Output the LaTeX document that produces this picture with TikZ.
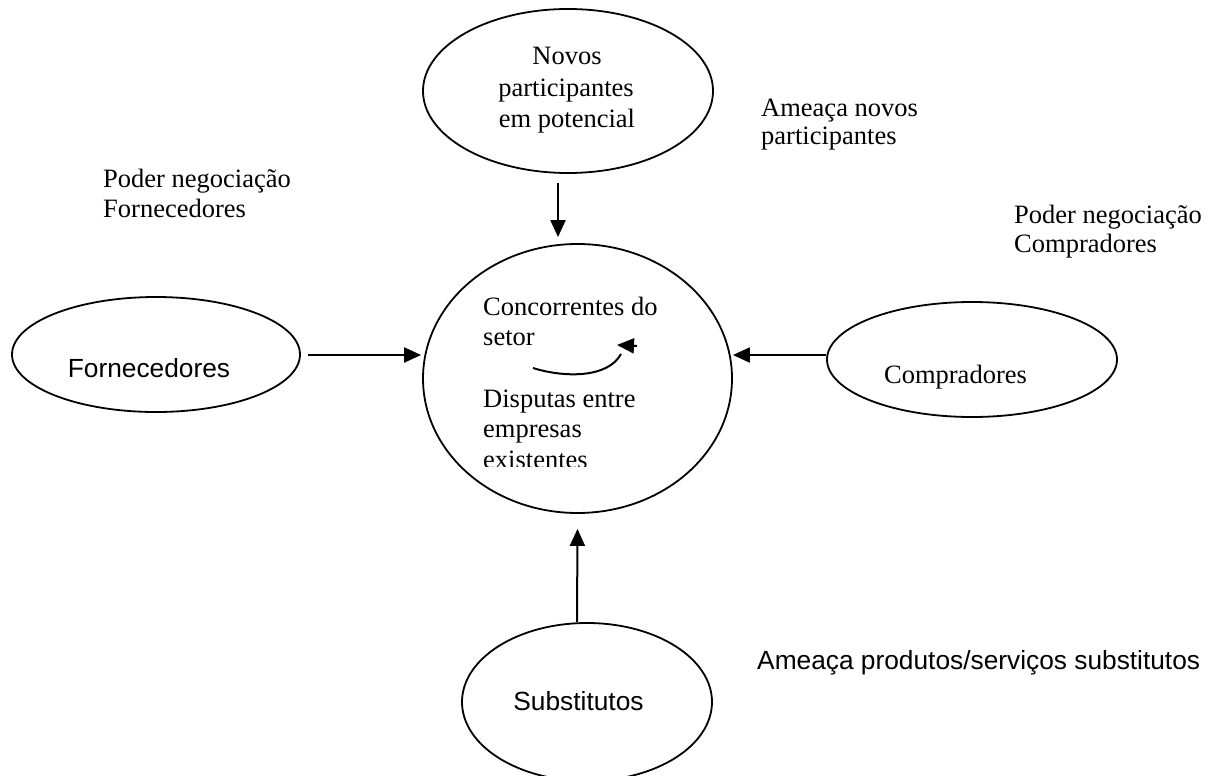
\documentclass[tikz,border=0pt]{standalone}
\usepackage{fontspec}
\setmainfont{Liberation Serif}
\newfontfamily\arialfont{Liberation Sans}
\usetikzlibrary{shapes.geometric,arrows.meta}
\begin{document}
\begin{tikzpicture}[x=1pt,y=-1pt,
  oval/.style={draw, ellipse, line width=1.8pt, inner sep=0pt},
  arr/.style={line width=2pt, -{Triangle[length=17pt,width=15pt]}},
  txt/.style={inner sep=0pt, font=\fontsize{26.5}{30}\selectfont},
  lbl/.style={txt, anchor=base west},
  ctr/.style={txt, anchor=base},
  sans/.style={font=\fontsize{26.3}{30}\arialfont}]
\clip (0,0) rectangle (1216,776);
\fill[white] (0,0) rectangle (1216,776);

% the five forces
\node[oval, minimum width=290pt, minimum height=164pt] (novos) at (568,91) {};
\node[oval, minimum width=309pt, minimum height=269pt] (conc) at (577.5,378.5) {};
\node[oval, minimum width=288pt, minimum height=115pt] (forn) at (156,354.5) {};
\node[oval, minimum width=290pt, minimum height=115pt] (comp) at (972,359.5) {};
\node[oval, minimum width=250pt, minimum height=158pt] (subst) at (587,702) {};

% texts inside the ellipses
\node[ctr] (n1) at (567,65) {Novos};
\node[ctr] (n2) at (566,96) {participantes};
\node[ctr] (n3) at (567,127) {em potencial};

\begin{scope}
  \clip (400,250) rectangle (760,466.7);
  \node[lbl] (c1) at (483,315) {Concorrentes do};
  \node[lbl] (c2) at (483,345.7) {setor};
  \node[lbl] (c3) at (483,407) {Disputas entre};
  \node[lbl] (c4) at (483,437.7) {empresas};
  \node[lbl] (c5) at (483,468.4) {existentes};
\end{scope}

\node[ctr, sans] (ft) at (149,377) {Fornecedores};
\node[ctr] (ct) at (955.5,383) {Compradores};
\node[ctr, sans] (st) at (578.5,710) {Substitutos};

% labels of the forces
\node[lbl] (a1) at (761,116) {Ameaça novos};
\node[lbl] (a2) at (761,144) {participantes};
\node[lbl] (p1) at (103,187) {Poder negociação};
\node[lbl] (p2) at (103,217) {Fornecedores};
\node[lbl] (q1) at (1014,223) {Poder negociação};
\node[lbl] (q2) at (1014,252) {Compradores};
\node[lbl, sans] (s1) at (757,669) {Ameaça produtos/serviços substitutos};

% arrows towards the industry rivalry
\draw[arr] ([xshift=-10pt,yshift=-9pt]novos.south) -- ([xshift=-19.5pt,yshift=6pt]conc.north);
\draw[arr] ([xshift=7pt,yshift=-0.5pt]forn.east) -- ([xshift=-1pt,yshift=23.5pt]conc.west);
\draw[arr] ([yshift=4.5pt]comp.west) -- ([yshift=23.5pt]conc.east);
\draw[arr] ([xshift=-10pt]subst.north) -- ([yshift=-15pt]conc.south);

% curved arrow of the rivalry
\coordinate (cs) at (533,368);
\coordinate (ce) at (621,354);
\coordinate (hs) at (637,346);
\coordinate (ht) at (617,345);
\draw[line width=2pt] (cs) .. controls (565,378) and (608,378) .. (ce);
\draw[arr] (hs) -- (ht);
\end{tikzpicture}
\end{document}
